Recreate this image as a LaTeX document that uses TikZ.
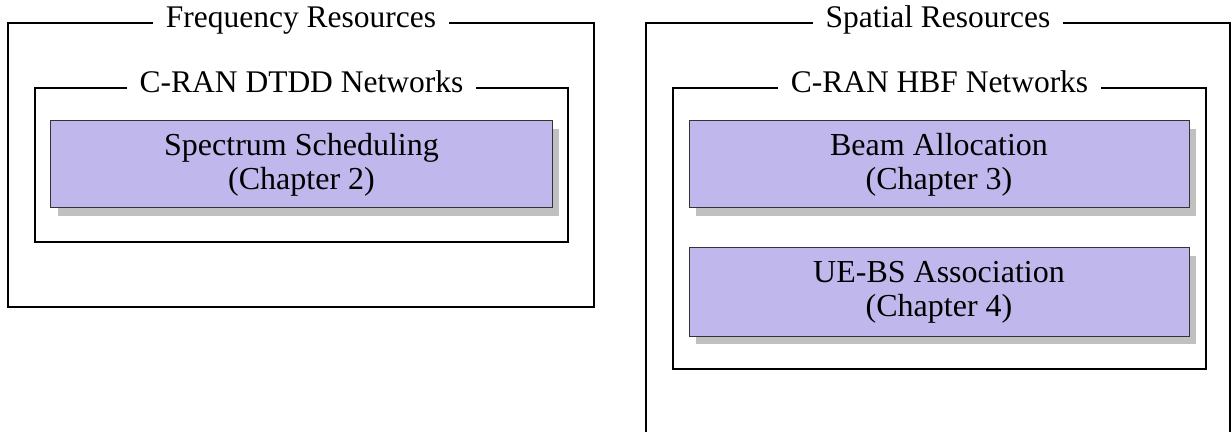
\documentclass[tikz,border=0pt]{standalone}
\usepackage{fontspec}
\setmainfont{Liberation Serif}
\usetikzlibrary{shadows}
\definecolor{boxfill}{RGB}{192,184,236}
\definecolor{shadowgray}{RGB}{192,192,192}
\begin{document}
\begin{tikzpicture}[x=0.4pt,y=-0.4pt,
  frame/.style={draw=black, line width=0.7pt},
  title/.style={fill=white, inner xsep=5pt, inner ysep=1pt, anchor=base,
    font=\fontsize{12.6}{13.6}\selectfont},
  task/.style={draw=black!80, line width=0.4pt, fill=boxfill,
    minimum width=200.4pt, minimum height=34.8pt, inner sep=0pt, align=center,
    font=\fontsize{12.8}{13.6}\selectfont,
    drop shadow={shadow xshift=2.8pt, shadow yshift=-3.2pt, fill=shadowgray, opacity=1}}]
  \useasboundingbox (0,0) rectangle (1232,432);
  \clip (0,0) rectangle (1232,432);

  % frequency side
  \coordinate (fA) at (8,23);   \coordinate (fB) at (594,307);
  \coordinate (dA) at (35,88);  \coordinate (dB) at (568,242);
  \draw[frame] (fA) rectangle (fB);
  \draw[frame] (dA) rectangle (dB);
  \node[title] (freqT) at (301,28) {Frequency Resources};
  \node[title] (dtddT) at (301.5,93) {C-RAN DTDD Networks};
  \node[task] (spec) at (301.5,164.5) {Spectrum Scheduling\\(Chapter 2)};

  % spatial side
  \coordinate (sA) at (646,23);  \coordinate (sB) at (1230,470);
  \coordinate (hA) at (673,88);  \coordinate (hB) at (1206,369);
  \draw[frame] (sA) rectangle (sB);
  \draw[frame] (hA) rectangle (hB);
  \node[title] (spatT) at (938,28) {Spatial Resources};
  \node[title] (hbfT) at (939.5,93) {C-RAN HBF Networks};
  \node[task, minimum width=200pt] (beam) at (939,164.5) {Beam Allocation\\(Chapter 3)};
  \node[task, minimum width=200pt, minimum height=35.2pt] (assoc) at (939,292) {UE-BS Association\\(Chapter 4)};
\end{tikzpicture}
\end{document}
